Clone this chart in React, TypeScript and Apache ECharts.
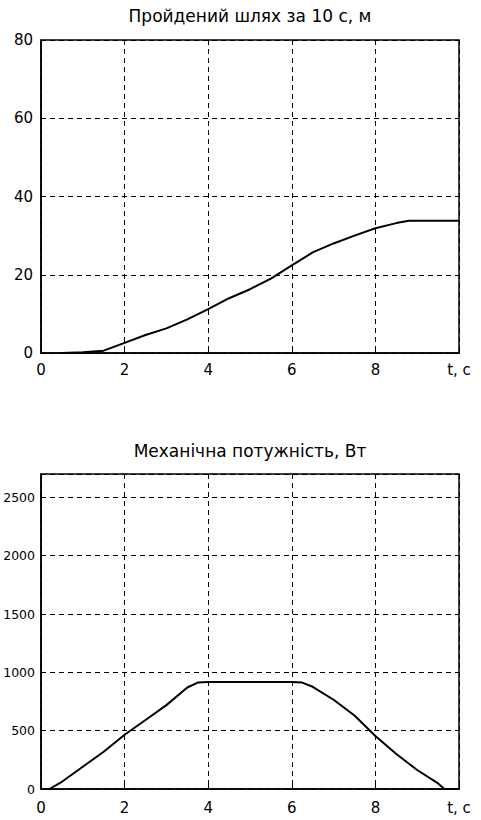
import React, { useEffect, useRef } from "react";
import * as echarts from "echarts";

// Distance travelled, m
const distT = [0.45, 0.5, 1, 1.5, 2, 2.5, 3, 3.5, 4, 4.5, 5, 5.5, 6, 6.5, 7, 7.5, 8, 8.5, 8.8, 9, 10];
const distS = [0, 0, 0.2, 0.6, 2.6, 4.6, 6.3, 8.6, 11.2, 14, 16.3, 19, 22.4, 25.7, 28, 30, 31.9, 33.2, 33.8, 33.8, 33.8];

// Mechanical power, W
const powT = [0, 0.2, 0.5, 1, 1.5, 2, 2.5, 3, 3.5, 3.75, 4, 5, 6, 6.25, 6.5, 7, 7.5, 8, 8.5, 9, 9.5, 9.65, 10];
const powP = [0, 0, 62, 191, 319, 465, 591, 719, 870, 912, 918, 918, 918, 912, 876, 765, 630, 455, 300, 163, 48, 0, 0];

const xTicks = [0, 2, 4, 6, 8, 10];
const titles = ["Пройдений шлях за 10 с, м", "Механічна потужність, Вт"];
const xUnit = "t, c";

const FONT = "DejaVu Sans";

function App() {
  const ref = useRef<HTMLDivElement>(null);

  useEffect(() => {
    if (!ref.current) return;
    const chart = echarts.init(ref.current, null, { renderer: "svg" });

    const grids = [
      { left: 41, top: 40, width: 418, height: 313 },
      { left: 41, top: 474, width: 418, height: 315 },
    ];

    const xAxisFor = (gridIndex: number, margin: number) => ({
      type: "value",
      gridIndex,
      min: 0,
      max: 10,
      interval: 2,
      axisLine: { show: true, lineStyle: { color: "#000", width: 1.5 } },
      axisTick: { show: true, inside: true, length: 4, lineStyle: { color: "#000" } },
      axisLabel: {
        color: "#000",
        fontFamily: FONT,
        fontSize: 15,
        margin,
        formatter: (v: number) => (v === xTicks[xTicks.length - 1] ? xUnit : String(v)),
      },
      splitLine: { show: true, lineStyle: { color: "#000", width: 1, type: [5, 4] } },
    });

    const yAxisFor = (gridIndex: number, max: number, interval: number, fontSize: number, margin: number) => ({
      type: "value",
      gridIndex,
      min: 0,
      max,
      interval,
      axisLine: { show: true, lineStyle: { color: "#000", width: 1.5 } },
      axisTick: { show: true, inside: true, length: 4, lineStyle: { color: "#000" } },
      axisLabel: {
        color: "#000",
        fontFamily: FONT,
        fontSize,
        margin,
        formatter: (v: number) => (v % interval === 0 ? String(v) : ""),
      },
      splitLine: { show: true, lineStyle: { color: "#000", width: 1, type: [5, 4] } },
    });

    chart.setOption({
      animation: false,
      backgroundColor: "#fff",
      grid: grids.map((g) => ({
        ...g,
        containLabel: false,
        outerBoundsMode: "none",
        show: true,
        borderColor: "#000",
        borderWidth: 1.5,
        backgroundColor: "#fff",
      })),
      xAxis: [xAxisFor(0, 9), xAxisFor(1, 11)],
      yAxis: [yAxisFor(0, 80, 20, 15, 8), yAxisFor(1, 2700, 500, 12.5, 6)],
      graphic: [
        {
          type: "text",
          x: 250,
          y: 16,
          style: {
            text: titles[0],
            fontFamily: FONT,
            fontSize: 17,
            fill: "#000",
            align: "center",
            verticalAlign: "middle",
          },
        },
        {
          type: "text",
          x: 250,
          y: 451,
          style: {
            text: titles[1],
            fontFamily: FONT,
            fontSize: 17,
            fill: "#000",
            align: "center",
            verticalAlign: "middle",
          },
        },
      ],
      series: [
        {
          type: "line",
          xAxisIndex: 0,
          yAxisIndex: 0,
          showSymbol: false,
          lineStyle: { color: "#000", width: 2 },
          data: distT.map((t, i) => [t, distS[i]]),
        },
        {
          type: "line",
          xAxisIndex: 1,
          yAxisIndex: 1,
          showSymbol: false,
          lineStyle: { color: "#000", width: 2 },
          data: powT.map((t, i) => [t, powP[i]]),
        },
      ],
    });

    return () => chart.dispose();
  }, []);

  return (
    <div
      ref={ref}
      style={{ position: "absolute", left: 0, top: 0, width: 481, height: 820, background: "#fff" }}
    />
  );
}

export default App;
